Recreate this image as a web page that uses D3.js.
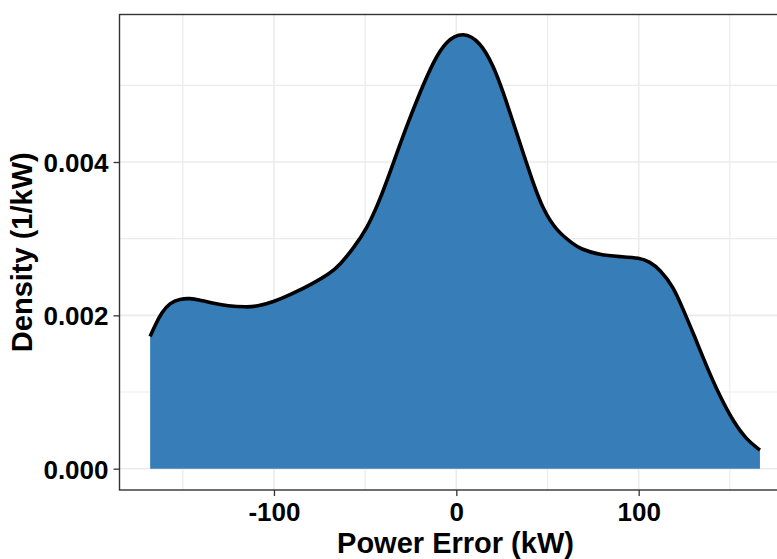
<!DOCTYPE html>
<html>
<head>
<meta charset="utf-8">
<script src="https://cdn.jsdelivr.net/npm/d3@7"></script>
<style>
  html, body { margin: 0; padding: 0; background: #fff; }
  svg { display: block; }
  text { font-family: "Liberation Sans", Arial, sans-serif; font-weight: bold; fill: #000; }
</style>
</head>
<body>
<svg id="chart" width="777" height="559"></svg>
<script>
// ---- data ----
const powerError = [-167.9, -165.2, -161.5, -157.0, -151.5, -146.0, -141.4, -135.0, -125.0, -115.0, -109.4, -100.3,
  -91.2, -78.4, -69.2, -63.8, -56.5, -49.1, -41.8, -34.5, -27.2, -19.9, -12.6, -5.3, 3.8,
  13.0, 20.3, 25.8, 31.3, 36.7, 42.2, 47.7, 55.0, 64.1, 67.8, 78.8, 89.7, 100.6, 106.0, 111.6,
  118.9, 124.5, 129.9, 137.3, 144.6, 151.9, 159.3, 166.5];
const density = [0.001724, 0.001870, 0.002040, 0.002165, 0.002215, 0.002222, 0.002205, 0.002165, 0.002120, 0.002108, 0.002115, 0.002175,
  0.002266, 0.002418, 0.002548, 0.002660, 0.002875, 0.003125, 0.003510, 0.003990, 0.004470, 0.004910, 0.005310, 0.005590, 0.005700,
  0.005570, 0.005260, 0.004905, 0.004508, 0.004113, 0.003722, 0.003374, 0.003100, 0.002930, 0.002870, 0.002785, 0.002765, 0.002750, 0.002700, 0.002600,
  0.002380, 0.002070, 0.001770, 0.001330, 0.000940, 0.000613, 0.000374, 0.000243];

const xMajorTicks = [-100, 0, 100];
const xMinorTicks = [-150, -50, 50, 150];
const yMajorTicks = [0, 0.002, 0.004];
const yMinorTicks = [0.001, 0.003, 0.005];
const xLabel = "Power Error (kW)";
const yLabel = "Density (1/kW)";

// ---- layout ----
const svg = d3.select("#chart");
const panel = { left: 119.5, right: 791.5, top: 14.5, bottom: 490 };

const x = d3.scaleLinear().domain([-184.7, 183.8]).range([panel.left, panel.right]);
const y = d3.scaleLinear().domain([-0.000278, 0.005924]).range([panel.bottom, panel.top]);

// panel background
svg.append("rect")
  .attr("x", panel.left).attr("y", panel.top)
  .attr("width", panel.right - panel.left).attr("height", panel.bottom - panel.top)
  .attr("fill", "#fff");

// grid
const grid = svg.append("g").attr("stroke", "#EBEBEB");
grid.selectAll(".vmin").data(xMinorTicks).join("line")
  .attr("x1", d => x(d)).attr("x2", d => x(d))
  .attr("y1", panel.top).attr("y2", panel.bottom).attr("stroke-width", 1.2);
grid.selectAll(".hmin").data(yMinorTicks).join("line")
  .attr("y1", d => y(d)).attr("y2", d => y(d))
  .attr("x1", panel.left).attr("x2", panel.right).attr("stroke-width", 1.2);
grid.selectAll(".vmaj").data(xMajorTicks).join("line")
  .attr("x1", d => x(d)).attr("x2", d => x(d))
  .attr("y1", panel.top).attr("y2", panel.bottom).attr("stroke-width", 1.6);
grid.selectAll(".hmaj").data(yMajorTicks).join("line")
  .attr("y1", d => y(d)).attr("y2", d => y(d))
  .attr("x1", panel.left).attr("x2", panel.right).attr("stroke-width", 1.6);

// density area + line
const pts = powerError.map((v, i) => [v, density[i]]);
const area = d3.area()
  .x(d => x(d[0])).y0(y(0)).y1(d => y(d[1]))
  .curve(d3.curveBasis);
const line = d3.line()
  .x(d => x(d[0])).y(d => y(d[1]))
  .curve(d3.curveBasis);

svg.append("path").datum(pts).attr("d", area).attr("fill", "#377EB8");
svg.append("path").datum(pts).attr("d", line)
  .attr("fill", "none").attr("stroke", "#000").attr("stroke-width", 3.6)
  .attr("stroke-linejoin", "round").attr("stroke-linecap", "butt");

// panel border
svg.append("rect")
  .attr("x", panel.left).attr("y", panel.top)
  .attr("width", panel.right - panel.left).attr("height", panel.bottom - panel.top)
  .attr("fill", "none").attr("stroke", "#333").attr("stroke-width", 1.4);

// axes
const xAxis = d3.axisBottom(x).tickValues(xMajorTicks).tickSize(6).tickPadding(6)
  .tickFormat(d => String(d));
const gx = svg.append("g").attr("transform", `translate(0,${panel.bottom})`).call(xAxis);
gx.select(".domain").remove();
gx.selectAll(".tick line").attr("stroke", "#333").attr("stroke-width", 1.3);
gx.selectAll(".tick text").attr("font-size", 26).attr("font-family", "Liberation Sans, Arial, sans-serif")
  .attr("font-weight", "bold").attr("fill", "#000").attr("dy", "0.71em").attr("y", 13);

const yAxis = d3.axisLeft(y).tickValues(yMajorTicks).tickSize(6).tickPadding(5)
  .tickFormat(d3.format(".3f"));
const gy = svg.append("g").attr("transform", `translate(${panel.left},0)`).call(yAxis);
gy.select(".domain").remove();
gy.selectAll(".tick line").attr("stroke", "#333").attr("stroke-width", 1.3);
gy.selectAll(".tick text").attr("font-size", 26).attr("font-family", "Liberation Sans, Arial, sans-serif")
  .attr("font-weight", "bold").attr("fill", "#000").attr("x", -11).attr("dy", "0.36em");

// axis titles
svg.append("text")
  .attr("x", (panel.left + panel.right) / 2).attr("y", 553)
  .attr("text-anchor", "middle").attr("font-size", 29)
  .text(xLabel);
svg.append("text")
  .attr("transform", `translate(31.5,${(panel.top + panel.bottom) / 2}) rotate(-90)`)
  .attr("text-anchor", "middle").attr("font-size", 29)
  .text(yLabel);
</script>
</body>
</html>
